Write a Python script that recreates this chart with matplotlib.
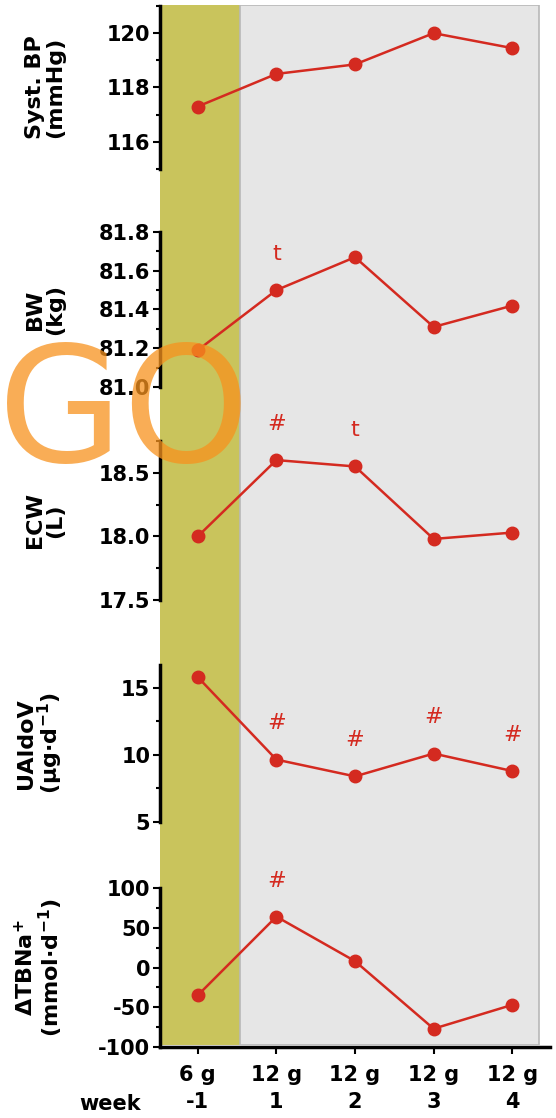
import matplotlib.pyplot as plt
import numpy as np

# weekly means, salt intake per week
weeks = ['-1', '1', '2', '3', '4']
salt = ['6 g', '12 g', '12 g', '12 g', '12 g']

bp = [117.3, 118.5, 118.85, 120.0, 119.45]
bw = [81.19, 81.50, 81.67, 81.31, 81.42]
ecw = [18.0, 18.6, 18.55, 17.98, 18.03]
ualdo = [15.8, 9.65, 8.4, 10.1, 8.8]
tbna = [-35, 64, 8, -77, -47]

# significance marks (week index -> symbol)
bw_sig = {1: 't'}
ecw_sig = {1: '#', 2: 't'}
ualdo_sig = {1: '#', 2: '#', 3: '#', 4: '#'}
tbna_sig = {1: '#'}

W, H = 556, 1118
red = '#d42a20'
green = '#c9c45c'
grey = '#e6e6e6'

plt.rcParams['font.family'] = 'DejaVu Sans'
plt.rcParams['font.weight'] = 'bold'

fig = plt.figure(figsize=(W / 100, H / 100), dpi=100)

x = np.arange(len(weeks))
xlim = (-0.48, 4.48)
left, right = 160, 550


def pos(top, bottom):
    return [left / W, 1 - bottom / H, (right - left) / W, (bottom - top) / H]


# shaded background: run-in week and high-salt weeks
bg = fig.add_axes(pos(5, 1045))
bg.set_xlim(xlim)
bg.set_ylim(0, 1)
bg.axvspan(xlim[0], 0.54, color=green, lw=0)
bg.axvspan(0.54, 4.34, facecolor=grey, edgecolor='#b8b8b8', lw=1.2)
bg.axis('off')

panels = [
    (bp, 'Syst. BP\n(mmHg)', (115, 121), [116, 118, 120], [115, 117, 119, 121], (6, 169), {}, '{:.0f}'),
    (bw, 'BW\n(kg)', (81.0, 81.8), [81.0, 81.2, 81.4, 81.6, 81.8], [81.1, 81.3, 81.5, 81.7], (232, 387), bw_sig, '{:.1f}'),
    (ecw, 'ECW\n(L)', (17.5, 18.75), [17.5, 18.0, 18.5], [17.75, 18.25, 18.75], (441, 600), ecw_sig, '{:.1f}'),
    (ualdo, 'UAldoV\n(µg·d$^{\\mathbf{-1}}$)', (5, 16.7), [5, 10, 15], [7.5, 12.5], (665, 822), ualdo_sig, '{:.0f}'),
    (tbna, 'ΔTBNa$^{\\mathbf{+}}$\n(mmol·d$^{\\mathbf{-1}}$)', (-100, 100), [-100, -50, 0, 50, 100], [-75, -25, 25, 75], (888, 1047), tbna_sig, '{:.0f}'),
]

for i, (vals, label, ylim, major, minor, (top, bottom), sig, fmt) in enumerate(panels):
    ax = fig.add_axes(pos(top, bottom))
    ax.patch.set_alpha(0)
    ax.set_xlim(xlim)
    ax.set_ylim(ylim)
    ax.plot(x, vals, color=red, lw=1.8, marker='o', ms=9, clip_on=False, zorder=3)
    for k, s in sig.items():
        ax.annotate(s, (x[k], vals[k]), xytext=(0, 26), textcoords='offset points',
                    ha='center', va='center', color=red, fontsize=16, fontweight='normal')
    ax.set_yticks(major)
    ax.set_yticklabels([fmt.format(v) for v in major])
    ax.set_yticks(minor, minor=True)
    for s in ['top', 'right']:
        ax.spines[s].set_visible(False)
    ax.spines['left'].set_linewidth(2.5)
    ax.tick_params(axis='y', which='major', length=5, width=1.5, labelsize=15, pad=2)
    ax.tick_params(axis='y', which='minor', length=3, width=1.5)
    ax.set_ylabel(label, fontsize=16, fontweight='bold', linespacing=1.0)
    ax.yaxis.set_label_coords(-95 / (right - left), 0.5)
    if i < len(panels) - 1:
        ax.spines['bottom'].set_visible(False)
        ax.set_xticks([])
    else:
        ax.spines['bottom'].set_linewidth(2.5)
        ax.set_xticks(x)
        ax.set_xticklabels([f'{s}\n{w}' for s, w in zip(salt, weeks)], fontsize=15, linespacing=1.45)
        ax.tick_params(axis='x', length=5, width=1.5, pad=8)

fig.text(110 / W, 1 - 1104 / H, 'week', ha='center', va='center', fontsize=15, fontweight='bold')

# orange watermark
fig.text(124 / W, 1 - 418 / H, 'GO', ha='center', va='center', fontsize=116,
         fontweight='normal', color='#f7921e', alpha=0.75, zorder=10)

fig.savefig('out.png', dpi=100)
